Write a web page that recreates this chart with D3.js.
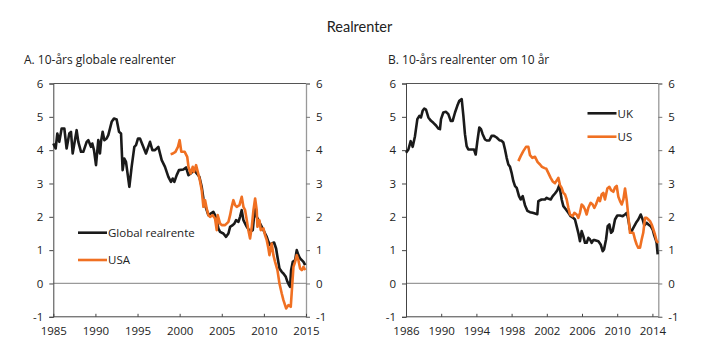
<!DOCTYPE html>
<html><head><meta charset="utf-8">
<script src="https://cdn.jsdelivr.net/npm/d3@7"></script>
<style>
body{margin:0;background:#fff;}
svg text{font-family:"Open Sans","Lato",sans-serif;fill:#222;}
</style></head>
<body><svg id="c" width="719" height="357"></svg>
<script>
// ---------- DATA ----------
const chartTitle = "Realrenter";
const panelTitles = ["A. 10-års globale realrenter", "B. 10-års realrenter om 10 år"];
const yTicks = [-1, 0, 1, 2, 3, 4, 5, 6];
const xTicksA = [1985, 1990, 1995, 2000, 2005, 2010, 2015];
const xTicksB = [1986, 1990, 1994, 1998, 2002, 2006, 2010, 2014];
const seriesNamesA = ["Global realrente", "USA"];
const seriesNamesB = ["UK", "US"];

const globalReal = [
[1985.0,4.2],[1985.28,4.05],[1985.48,4.5],[1985.71,4.25],[1985.99,4.65],[1986.31,4.65],[1986.58,4.05],[1986.9,4.5],
[1987.1,4.55],[1987.3,3.9],[1987.77,4.6],[1987.97,4.25],[1988.29,3.95],[1988.56,3.95],[1988.96,4.25],[1989.16,4.3],
[1989.47,4.1],[1989.63,4.2],[1989.83,4.0],[1990.07,3.55],[1990.34,4.3],[1990.54,3.9],[1990.66,4.25],[1990.86,4.55],
[1991.06,4.3],[1991.33,4.35],[1991.53,4.45],[1991.93,4.85],[1992.2,4.95],[1992.52,4.92],[1992.8,4.55],[1993.04,4.5],
[1993.23,3.4],[1993.43,3.75],[1993.63,3.65],[1994.03,2.9],[1994.3,3.5],[1994.62,4.1],[1994.82,4.15],[1995.06,4.35],
[1995.29,4.35],[1995.61,4.15],[1996.0,3.9],[1996.48,4.25],[1996.76,4.0],[1997.07,4.0],[1997.47,4.1],[1997.87,3.7],
[1998.26,3.5],[1998.66,3.2],[1998.97,3.05],[1999.17,3.15],[1999.37,3.05],[1999.65,3.25],[1999.92,3.4],[2000.44,3.42],
[2000.76,3.48],[2001.04,3.25],[2001.31,3.3],[2001.71,3.4],[2002.03,3.3],[2002.34,3.2],[2002.62,2.9],[2002.82,2.55],
[2003.02,2.35],[2003.21,2.2],[2003.41,2.05],[2003.69,2.1],[2004.0,2.15],[2004.2,2.05],[2004.4,1.9],[2004.6,1.65],
[2004.8,1.55],[2005.19,1.5],[2005.51,1.4],[2005.79,1.5],[2005.99,1.7],[2006.3,1.75],[2006.5,1.8],[2006.7,1.9],
[2006.98,1.85],[2007.17,2.0],[2007.37,2.2],[2007.57,1.9],[2007.97,1.7],[2008.36,1.55],[2008.68,1.6],[2008.96,2.35],
[2009.15,2.0],[2009.35,1.9],[2009.55,1.8],[2009.95,1.6],[2010.14,1.5],[2010.34,1.4],[2010.54,1.25],[2010.74,1.15],
[2010.93,1.2],[2011.21,1.23],[2011.45,1.05],[2011.61,0.8],[2011.85,0.45],[2012.12,0.35],[2012.32,0.3],[2012.6,0.2],
[2012.8,0.05],[2012.99,-0.05],[2013.11,-0.1],[2013.23,0.4],[2013.43,0.65],[2013.71,0.7],[2013.9,1.0],[2014.1,0.85],
[2014.3,0.75],[2014.5,0.7],[2014.7,0.65],[2014.9,0.55]
];
const usaReal = [
[1998.93,3.88],[1999.2,3.9],[1999.5,3.95],[1999.8,4.1],[2000.0,4.3],[2000.2,3.95],[2000.6,3.95],[2000.9,3.8],
[2001.05,3.5],[2001.3,3.3],[2001.55,3.5],[2001.7,3.35],[2001.95,3.55],[2002.15,3.35],[2002.4,3.1],[2002.62,2.8],
[2002.82,2.3],[2003.02,2.5],[2003.21,2.25],[2003.41,2.05],[2003.61,2.0],[2003.93,2.05],[2004.2,1.95],[2004.4,1.6],
[2004.52,2.05],[2004.8,1.8],[2005.0,1.75],[2005.39,1.75],[2005.79,1.85],[2005.99,2.05],[2006.18,2.3],[2006.38,2.5],
[2006.58,2.35],[2006.78,2.3],[2007.1,2.35],[2007.37,2.6],[2007.57,2.3],[2007.77,2.2],[2007.97,1.9],[2008.16,1.6],
[2008.36,1.35],[2008.56,1.7],[2008.76,2.2],[2008.96,2.55],[2009.15,2.2],[2009.23,1.7],[2009.47,1.9],[2009.63,1.6],
[2009.95,1.65],[2010.14,1.45],[2010.34,1.3],[2010.54,1.05],[2010.66,0.85],[2010.93,1.2],[2011.13,0.85],[2011.33,0.65],
[2011.61,0.4],[2011.85,0.0],[2012.12,-0.3],[2012.32,-0.5],[2012.64,-0.75],[2012.91,-0.65],[2013.19,-0.7],[2013.51,0.5],
[2013.71,0.65],[2013.9,0.85],[2014.1,0.7],[2014.3,0.45],[2014.5,0.4],[2014.7,0.5],[2014.9,0.4]
];
const ukForward = [
[1986.0,3.92],[1986.27,4.02],[1986.53,4.27],[1986.76,4.1],[1987.02,4.42],[1987.29,4.93],[1987.52,5.03],[1987.7,4.98],
[1987.89,5.18],[1988.08,5.25],[1988.27,5.22],[1988.54,4.98],[1988.84,4.88],[1989.11,4.82],[1989.41,4.74],[1989.67,4.65],
[1989.86,4.63],[1989.98,4.93],[1990.24,5.13],[1990.55,5.15],[1990.81,5.08],[1991.08,4.88],[1991.3,4.88],[1991.57,5.13],
[1991.83,5.33],[1992.06,5.48],[1992.33,5.53],[1992.52,5.03],[1992.7,4.48],[1992.89,4.12],[1993.08,4.02],[1993.46,4.02],
[1993.73,4.02],[1993.92,3.87],[1994.11,4.27],[1994.33,4.68],[1994.52,4.63],[1994.71,4.48],[1994.98,4.32],[1995.17,4.29],
[1995.47,4.29],[1995.73,4.43],[1996.0,4.43],[1996.3,4.38],[1996.61,4.3],[1996.87,4.28],[1997.06,4.23],[1997.25,4.02],
[1997.44,3.77],[1997.63,3.57],[1997.82,3.5],[1998.0,3.32],[1998.2,3.07],[1998.39,2.92],[1998.58,2.87],[1998.84,2.62],
[1999.03,2.52],[1999.26,2.62],[1999.52,2.35],[1999.79,2.18],[2000.09,2.14],[2000.39,2.12],[2000.66,2.1],[2000.92,2.08],
[2001.04,2.47],[2001.4,2.52],[2001.79,2.52],[2001.99,2.57],[2002.2,2.54],[2002.44,2.52],[2002.67,2.62],[2002.93,2.7],
[2003.2,2.8],[2003.42,2.95],[2003.69,2.52],[2003.88,2.32],[2004.18,2.22],[2004.45,2.12],[2004.71,2.02],[2005.01,1.97],
[2005.2,1.92],[2005.39,1.72],[2005.58,1.52],[2005.77,1.27],[2005.96,1.57],[2006.15,1.42],[2006.34,1.22],[2006.53,1.22],
[2006.72,1.37],[2006.91,1.32],[2007.1,1.22],[2007.29,1.3],[2007.48,1.3],[2007.86,1.27],[2008.12,1.17],[2008.35,0.97],
[2008.5,1.02],[2008.73,1.32],[2008.92,1.72],[2009.11,1.77],[2009.3,1.52],[2009.48,1.57],[2009.75,1.92],[2010.01,2.04],
[2010.32,2.04],[2010.62,2.02],[2010.89,2.07],[2011.08,2.12],[2011.26,1.92],[2011.45,1.62],[2011.64,1.57],[2011.83,1.67],
[2012.14,1.82],[2012.4,1.92],[2012.67,2.07],[2012.89,1.92],[2013.08,1.74],[2013.35,1.82],[2013.54,1.77],[2013.8,1.72],
[2014.03,1.62],[2014.18,1.47],[2014.37,1.32],[2014.48,1.22],[2014.6,0.87]
];
const usForward = [
[1998.77,3.67],[1999.03,3.82],[1999.33,3.97],[1999.64,4.1],[1999.9,4.1],[2000.09,3.85],[2000.36,3.77],[2000.66,3.8],
[2000.96,3.64],[2001.23,3.57],[2001.45,3.5],[2001.75,3.46],[2001.95,3.44],[2002.17,3.32],[2002.44,3.17],[2002.67,3.06],
[2002.93,3.01],[2003.2,3.12],[2003.31,3.17],[2003.5,2.95],[2003.69,2.87],[2003.88,2.72],[2004.07,2.67],[2004.26,2.52],
[2004.45,2.27],[2004.64,2.07],[2004.94,2.02],[2005.13,2.12],[2005.39,2.07],[2005.58,1.97],[2005.77,2.12],[2005.96,2.37],
[2006.15,2.32],[2006.34,2.22],[2006.53,2.07],[2006.72,2.27],[2006.98,2.42],[2007.21,2.37],[2007.4,2.27],[2007.59,2.37],
[2007.86,2.57],[2008.04,2.47],[2008.23,2.67],[2008.42,2.72],[2008.61,2.52],[2008.88,2.85],[2009.11,2.9],[2009.3,2.8],
[2009.56,2.75],[2009.75,2.88],[2009.94,2.93],[2010.13,2.6],[2010.32,2.47],[2010.51,2.37],[2010.7,2.52],[2010.89,2.85],
[2011.08,2.5],[2011.26,2.02],[2011.45,1.52],[2011.83,1.52],[2012.02,1.32],[2012.21,1.17],[2012.4,1.07],[2012.59,1.07],
[2012.78,1.32],[2012.96,1.52],[2013.16,1.97],[2013.35,1.97],[2013.54,1.92],[2013.73,1.87],[2013.92,1.77],[2014.11,1.62],
[2014.29,1.47],[2014.48,1.27],[2014.67,1.22]
];

// ---------- STYLE ----------
const BLACK = "#1a1a1a", ORANGE = "#f07022";
const FONT = "'Open Sans',Lato,sans-serif";
const svg = d3.select("#c");

svg.append("text").attr("x", 359.5).attr("y", 32).attr("text-anchor", "middle")
  .style("font-family", "Lato,'Open Sans',sans-serif").style("font-size", "14.5px").text(chartTitle);

const fmt = d => String(d);

function panel(opt) {
  const x = d3.scaleLinear().domain(opt.xDomain).range([opt.x0, opt.x1]);
  const y = d3.scaleLinear().domain([-1, 6]).range([316.8, 83.5]);
  const g = svg.append("g");

  g.append("text").attr("x", opt.titleX).attr("y", 63.5).style("font-size", "12px").text(opt.title);

  // top frame line
  g.append("line").attr("x1", opt.x0).attr("x2", opt.x1).attr("y1", y(6)).attr("y2", y(6))
    .attr("stroke", "#555").attr("stroke-width", 1);
  // zero line
  g.append("line").attr("x1", opt.x0).attr("x2", opt.x1).attr("y1", y(0)).attr("y2", y(0))
    .attr("stroke", "#9a9a9a").attr("stroke-width", 1.2);

  const styleText = sel => sel.selectAll("text").style("font-size", "11.5px").style("font-family", FONT).attr("fill", "#222");

  // left axis
  const la = g.append("g").attr("transform", `translate(${opt.x0},0)`)
    .call(d3.axisLeft(y).tickValues(yTicks).tickSize(4).tickPadding(6).tickFormat(fmt));
  la.select(".domain").attr("stroke", "#444");
  la.selectAll(".tick line").attr("stroke", "#444");
  styleText(la);

  // right axis
  const ra = g.append("g").attr("transform", `translate(${opt.x1},0)`)
    .call(d3.axisRight(y).tickValues(yTicks).tickSize(4).tickPadding(6).tickFormat(fmt));
  ra.select(".domain").attr("stroke", "#999").attr("stroke-width", 1.3);
  ra.selectAll(".tick line").attr("stroke", "#777");
  styleText(ra);

  // bottom axis
  const ba = g.append("g").attr("transform", `translate(0,${y(-1)})`)
    .call(d3.axisBottom(x).tickValues(opt.xTicks).tickSize(-3).tickPadding(10).tickFormat(fmt));
  ba.select(".domain").attr("stroke", "#444").attr("d", `M${opt.x0},0H${opt.x1}`);
  ba.selectAll(".tick line").attr("stroke", "#444");
  styleText(ba);

  const line = d3.line().x(d => x(d[0])).y(d => y(d[1]));
  opt.series.forEach(s => {
    g.append("path").datum(s.data).attr("d", line).attr("fill", "none")
      .attr("stroke", s.color).attr("stroke-width", 2.6).attr("stroke-linejoin", "round");
  });

  // legend
  opt.series.forEach((s, i) => {
    const ly = opt.legY + i * opt.legGap;
    g.append("line").attr("x1", opt.legX).attr("x2", opt.legX + 29).attr("y1", ly).attr("y2", ly)
      .attr("stroke", s.color).attr("stroke-width", 2.6);
    g.append("text").attr("x", opt.legX + 30).attr("y", ly + 4.2).style("font-size", "11.5px").text(s.name);
  });
}

panel({
  title: panelTitles[0], titleX: 24,
  xDomain: [1985, 2015], x0: 53.3, x1: 306, xTicks: xTicksA,
  series: [{name: seriesNamesA[0], data: globalReal, color: BLACK},
           {name: seriesNamesA[1], data: usaReal, color: ORANGE}],
  legX: 78, legY: 232.7, legGap: 27.3
});
panel({
  title: panelTitles[1], titleX: 388,
  xDomain: [1986, 2014.67], x0: 406, x1: 658.3, xTicks: xTicksB,
  series: [{name: seriesNamesB[0], data: ukForward, color: BLACK},
           {name: seriesNamesB[1], data: usForward, color: ORANGE}],
  legX: 587.5, legY: 113.3, legGap: 23.4
});
</script></body></html>
